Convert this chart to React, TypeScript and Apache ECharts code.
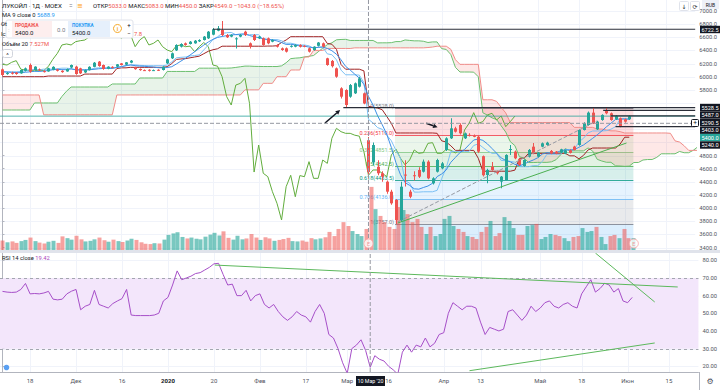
import React, { useEffect, useRef } from "react";
import * as echarts from "echarts";

// ---------- DATA ----------
// daily candles: [open, close, low, high]
const candles: number[][] = [
  [6112, 6026, 6010, 6125], [6045, 6055, 6030, 6070], [6060, 6045, 6035, 6075], [6062, 6041, 6030, 6070], [6051, 6102, 6045, 6110],
  [6090, 6127, 6080, 6140], [6178, 6076, 6060, 6200], [6102, 6153, 6095, 6160], [6110, 6095, 6085, 6125], [6085, 6080, 6065, 6100],
  [6080, 6127, 6075, 6135], [6105, 6150, 6100, 6160], [6110, 6090, 6080, 6120], [6090, 6070, 6060, 6100], [6080, 6118, 6075, 6125],
  [6140, 6178, 6130, 6185], [6153, 6041, 6030, 6165], [6127, 6051, 6040, 6135], [6065, 6100, 6055, 6110], [6100, 6150, 6095, 6160],
  [6150, 6213, 6145, 6225], [6229, 6163, 6150, 6240], [6178, 6117, 6105, 6185], [6120, 6153, 6115, 6160], [6150, 6135, 6125, 6160],
  [6153, 6188, 6145, 6195], [6203, 6178, 6170, 6210], [6183, 6219, 6178, 6225], [6214, 6244, 6205, 6255], [6140, 6115, 6105, 6150],
  [6118, 6100, 6090, 6125], [6100, 6095, 6085, 6110], [6105, 6090, 6080, 6115], [6095, 6100, 6085, 6110], [6105, 6095, 6085, 6112],
  [6102, 6153, 6095, 6160], [6203, 6264, 6195, 6275], [6280, 6356, 6270, 6370], [6400, 6483, 6390, 6495], [6457, 6498, 6445, 6510],
  [6508, 6483, 6470, 6520], [6498, 6533, 6490, 6545], [6508, 6548, 6500, 6560], [6538, 6558, 6530, 6570], [6558, 6610, 6550, 6620],
  [6584, 6685, 6575, 6695], [6640, 6722.5, 6630, 6740], [6700, 6735, 6690, 6770], [6711, 6635, 6620, 6848], [6635, 6600, 6590, 6650],
  [6610, 6635, 6600, 6645], [6574, 6584, 6430, 6600], [6610, 6635, 6600, 6650], [6685, 6635, 6620, 6700], [6508, 6457, 6430, 6520],
  [6635, 6559, 6545, 6650], [6584, 6610, 6575, 6620], [6584, 6483, 6470, 6595], [6584, 6508, 6495, 6595], [6533, 6559, 6525, 6570],
  [6483, 6457, 6445, 6495], [6432, 6406, 6395, 6445], [6432, 6381, 6370, 6445], [6457, 6470, 6445, 6480], [6457, 6483, 6450, 6495],
  [6483, 6457, 6445, 6495], [6470, 6465, 6450, 6480], [6432, 6381, 6370, 6445], [6406, 6457, 6395, 6465], [6470, 6520, 6460, 6530],
  [6508, 6457, 6445, 6520], [6280, 6178, 6165, 6290], [6240, 6160, 6140, 6254], [6127, 6000, 5985, 6140], [5823, 5696, 5670, 5840],
  [5797, 5569, 5528, 5810], [5696, 5873, 5680, 5890], [5747, 5899, 5735, 5910], [5848, 5975, 5835, 6000], [5747, 5592, 5580, 5760],
  [5033, 4549, 4450, 5083], [4700, 4960, 4650, 5000], [4630, 4530, 4500, 4730], [4530, 4478, 4400, 4560], [4402, 4250, 4220, 4420],
  [4250, 4073, 4050, 4280], [4123, 3819, 3757, 4140], [3819, 4326, 3790, 4400], [4510, 4500, 4330, 4730], [4250, 4173, 4150, 4280],
  [4500, 4495, 4420, 4560], [4580, 4478, 4460, 4620], [4554, 4707, 4540, 4740], [4707, 4453, 4440, 4730], [4377, 4453, 4360, 4470],
  [4554, 4732, 4540, 4750], [4605, 4681, 4590, 4700], [4884, 5062, 4870, 5080], [5062, 5214, 5050, 5366], [5214, 5163, 5150, 5240],
  [5265, 5138, 5120, 5290], [5062, 5138, 5050, 5150], [5115, 5110, 5090, 5140], [5100, 5095, 5080, 5120], [5087, 4859, 4840, 5100],
  [4790, 4500, 4480, 4800], [4504, 4580, 4377, 4600], [4631, 4580, 4570, 4700], [4555, 4530, 4510, 4570], [4403, 4479, 4301, 4490],
  [4428, 4809, 4420, 4820], [4890, 4900, 4809, 4960], [4860, 4758, 4745, 4875], [4743, 4657, 4640, 4755], [4641, 4733, 4630, 4745],
  [4783, 4885, 4770, 4900], [4935, 4834, 4820, 4990], [4783, 4844, 4770, 4855], [4935, 4986, 4925, 5000], [4961, 4996, 4950, 5010],
  [4870, 4834, 4820, 4885], [4860, 4834, 4820, 4870], [4844, 4895, 4835, 4905], [4830, 4880, 4820, 4890], [4880, 4840, 4830, 4895],
  [4936, 4885, 4875, 4950], [4961, 5189, 4950, 5200], [5189, 5291, 5180, 5305], [5265, 5453, 5255, 5470], [5453, 5291, 5280, 5528],
  [5199, 5316, 5190, 5330], [5341, 5418, 5330, 5430], [5483, 5443, 5430, 5528], [5443, 5341, 5330, 5455], [5352, 5402, 5340, 5415],
  [5367, 5240, 5230, 5380], [5352, 5316, 5300, 5365], [5352, 5400, 5340, 5410],
];

// volume, millions
const volumes: number[] = [
  3.2, 2.6, 2.9, 2.4, 3.0, 3.4, 4.2, 3.0, 2.5, 2.2,
  2.8, 3.1, 2.4, 4.6, 4.0, 3.5, 4.8, 3.6, 2.9, 3.1,
  3.6, 4.2, 3.3, 2.8, 3.5, 3.0, 2.7, 3.2, 3.8, 3.4,
  2.6, 2.1, 2.0, 2.3, 2.2, 3.5, 5.1, 5.6, 6.0, 4.4,
  3.9, 4.2, 3.8, 3.6, 4.5, 5.2, 5.8, 4.9, 6.3, 4.1,
  3.5, 4.8, 3.6, 3.9, 5.4, 4.2, 3.4, 4.3, 3.9, 3.1,
  3.4, 3.7, 4.1, 3.0, 2.9, 3.2, 2.8, 4.0, 3.6, 3.9,
  4.3, 6.1, 4.7, 7.1, 9.4, 8.1, 6.4, 5.4, 4.7, 7.1,
  21.3, 13.8, 11.5, 9.4, 7.8, 7.1, 14.5, 13.5, 12.1, 9.4,
  10.5, 7.8, 5.4, 7.8, 4.7, 5.4, 10.5, 11.5, 8.1, 7.1,
  6.1, 4.7, 4.4, 3.7, 6.1, 7.8, 9.8, 4.7, 5.7, 11.1,
  9.8, 7.4, 5.1, 5.1, 8.1, 8.4, 8.8, 3.7, 4.4, 5.4,
  5.1, 4.7, 4.0, 3.0, 4.4, 4.7, 7.4, 6.1, 6.4, 7.8,
  4.4, 2.0, 4.7, 5.1, 4.0, 7.1, 4.0, 4.0,
];

// RSI 14 values
const rsiValues: number[] = [
  62.4, 62, 61.8, 62, 63.5, 66.9, 61, 61.2, 61, 61.5,
  62.4, 58, 57.6, 58, 61, 62.5, 63.5, 52, 54, 55,
  63, 55, 54, 53, 55.5, 57, 58.3, 63.5, 49, 48.7,
  48.7, 48.7, 48.7, 49, 50, 57, 59, 66, 74, 69,
  70, 71, 72.5, 73, 74.5, 76, 78, 78.3, 72, 66,
  66.5, 60, 60, 63, 57, 60, 61, 55, 53, 55,
  51, 48, 46, 48, 51, 49, 48, 45, 51, 55,
  50, 38, 36, 30, 22, 16, 30, 32, 35, 29,
  19.42, 26, 24, 23, 20, 18, 15.5, 28, 32, 28,
  32, 31, 36, 31, 33, 38, 39, 50, 56, 54,
  52, 54, 54, 53, 45, 38, 42, 41, 40, 41,
  51, 52, 49, 46, 49, 54, 51, 53, 56, 57,
  54, 53, 55, 56, 54, 53, 61, 65, 69, 62,
  64, 67, 66, 62, 64, 57, 56, 59,
];

// indicator values at the left edge (their look-back windows lie before the first visible bar)
const ma9Head = [6075, 6070, 6066, 6062, 6062, 6068, 6074, 6082];
const tenkanHead = [6075, 6075, 6075, 6075, 6080, 6090, 6105, 6110];
const kijunHead = [
  6000, 6000, 6000, 6000, 6000, 6000, 6000, 6000, 6000, 6000,
  6010, 6010, 6010, 6010, 6010, 6010, 6010, 6010,
  6040, 6040, 6040, 6040, 6040, 6040, 6040,
];
const spanAHead = [
  5493, 5493, 5493, 5493, 5493, 5493, 5493, 5600, 5600, 5600,
  5600, 5600, 5600, 5700, 5780, 5843, 5843, 5843, 5843, 5843,
  5843, 5843, 5843, 5843, 5889, 5889, 5889, 5889, 5889, 5889,
  5980, 5980, 5980, 5980, 5980, 5980, 6080, 6080, 6080, 6080,
  6080, 6080, 6080, 6130, 6130, 6130, 6130, 6130, 6130, 6130,
];
const spanBHead = [
  5722, 5722, 5722, 5722, 5722, 5722, 5722, 5722, 5722, 5420,
  5420, 5420, 5420, 5420, 5420, 5420, 5420, 5420, 5420, 5420,
  5420, 5420, 5420, 5420, 5420, 5722, 5722, 5722, 5722, 5722,
  5722, 5722, 5722, 5722, 5722, 5722, 5722, 5722, 5722, 5722,
  5722, 5722, 5722, 5722, 5722, 5722, 5722, 5722, 5722, 5722,
  5722, 5722, 5722, 5800, 5800, 5800, 5800, 5899, 5899, 5899,
  6000, 6000, 6000, 6102, 6102, 6102, 6300, 6300, 6400, 6400,
  6400, 6430, 6430, 6430, 6430, 6430,
];

const priceGridTicks = [3400, 3600, 3800, 4000, 4200, 4400, 4600, 4800, 5000, 5200, 5400, 5600, 5800, 6000, 6200, 6400, 6600, 6800, 7000];
// labels that stay visible (the others sit under the price tags)
const priceLabelTicks = [3400, 3600, 3800, 4000, 4200, 4400, 4600, 4800, 5800, 6000, 6200, 6400, 6600, 6800, 7000];
const rsiTicks = [20, 30, 40, 50, 60, 70, 80];
const xTickIndex = [6, 16, 26, 36, 46, 56, 66, 75, 84, 96, 104, 117, 126, 136, 145];
const xTickLabels = ["18", "Дек", "16", "2020", "20", "Фев", "17", "Мар", "16", "Апр", "13", "Май", "18", "Июн", "15"];

// drawings
const fibHigh = 5528;
const fibLow = 3757;
const fibRatios = [0, 0.236, 0.382, 0.5, 0.618, 0.786, 1, 1.618];
const fibStart = 85.8;
const fibEnd = 137.9;
const rays = [
  { price: 6722.5, from: 46 },
  { price: 5528.5, from: 74.5 },
  { price: 5487, from: 131.3 },
  { price: 5403, from: 133 },
  { price: 5240, from: 134 },
];
const lastPrice = 5400;
const crossIndex = 80;
const crossPrice = 5290.5;
const trendGreen = [[86.4, 3773], [136.4, 4991]];
const trendDashed = [[86.4, 3789], [129.9, 5326]];
const rsiTrend1 = [[46.2, 77.3], [146.9, 64.9]];
const rsiTrend2 = [[101.6, 17.5], [141.9, 33.2]];
const rsiTrend3 = [[129.0, 84.1], [141.9, 56.4]];
const arrows = [[70.5, 5295, 73.8, 5493], [92.6, 5291, 95.1, 5230]];
const earnings = [80, 138];

// ---------- LAYOUT ----------
const X_MIN = -0.543, X_MAX = 151.41;
const P_MIN = 3362.3, P_MAX = 7167.4;
const R_MIN = 16.77, R_MAX = 84.13;
const V_MAX = 27;
const UP = "#26a69a", DOWN = "#ef5350";
const FONT = 'Roboto, "Noto Sans", "DejaVu Sans", sans-serif';
const fibColors = ["#787b86", "#f23645", "#81c784", "#4caf50", "#089981", "#64b5f6", "#787b86", "#2196f3"];

function hexA(hex: string, a: number) {
  const n = parseInt(hex.slice(1), 16);
  return `rgba(${(n >> 16) & 255},${(n >> 8) & 255},${n & 255},${a})`;
}

function buildOption() {
  const N = candles.length;
  const SHIFT = 25;
  const closes = candles.map((c) => c[1]);
  const lows = candles.map((c) => c[2]);
  const highs = candles.map((c) => c[3]);
  const midRange = (end: number, len: number) => {
    let h = -Infinity, l = Infinity;
    for (let k = end - len + 1; k <= end; k++) { h = Math.max(h, highs[k]); l = Math.min(l, lows[k]); }
    return (h + l) / 2;
  };
  const ma9 = closes.map((_, i) => {
    if (i < 8) return ma9Head[i];
    let s = 0; for (let k = i - 8; k <= i; k++) s += closes[k]; return s / 9;
  });
  const tenkan = closes.map((_, i) => (i >= 8 ? midRange(i, 9) : tenkanHead[i]));
  const kijun = closes.map((_, i) => (i >= 25 ? midRange(i, 26) : kijunHead[i]));
  const spanA: number[] = [], spanB: number[] = [];
  for (let j = 0; j < N + SHIFT; j++) {
    spanA.push(j >= 50 ? (tenkan[j - SHIFT] + kijun[j - SHIFT]) / 2 : spanAHead[j]);
    spanB.push(j >= 76 ? midRange(j - SHIFT, 52) : spanBHead[j]);
  }
  const chikou = closes.slice(SHIFT).map((c, i) => [i, c]);

  // cloud runs (split where spans cross)
  const runs: { s: number; pts: number[][] }[] = [];
  let cur: { s: number; pts: number[][] } | null = null;
  for (let j = 0; j < spanA.length; j++) {
    const a = spanA[j], b = spanB[j];
    const s = a >= b ? 1 : -1;
    if (!cur) { cur = { s, pts: [[j, a, b]] }; continue; }
    if (s === cur.s) cur.pts.push([j, a, b]);
    else {
      const [pj, pa, pb] = cur.pts[cur.pts.length - 1];
      const d0 = pa - pb, d1 = a - b;
      const t = d0 / (d0 - d1);
      const xm = pj + t, vm = pa + (a - pa) * t;
      cur.pts.push([xm, vm, vm]);
      runs.push(cur);
      cur = { s, pts: [[xm, vm, vm], [j, a, b]] };
    }
  }
  if (cur) runs.push(cur);

  const idx = (arr: number[]) => arr.map((v, i) => [i, v]);
  const line = (data: any[], color: string, o: any = {}) => ({
    type: "line", data, xAxisIndex: o.g ?? 0, yAxisIndex: o.g ?? 0, symbol: "none", showSymbol: false,
    silent: true, clip: true, z: o.z ?? 3,
    lineStyle: { color, width: o.w ?? 1, type: o.type ?? "solid", opacity: o.op ?? 1 },
  });
  const hLines = (values: number[], g: number, color: string) => ({
    type: "custom", xAxisIndex: g, yAxisIndex: g, silent: true, z: 0, clip: true,
    data: values.map((v) => [X_MIN, v]),
    renderItem: (params: any, api: any) => {
      const cs = params.coordSys;
      const y = Math.round(api.coord([X_MIN, api.value(1)])[1]) + 0.5;
      return { type: "line", shape: { x1: cs.x, y1: y, x2: cs.x + cs.width, y2: y }, style: { stroke: color, lineWidth: 1 } };
    },
  });
  const vLines = (values: number[], g: number, mid: number, color: string) => ({
    type: "custom", xAxisIndex: g, yAxisIndex: g, silent: true, z: 0, clip: true,
    data: values.map((v) => [v, mid]),
    renderItem: (params: any, api: any) => {
      const cs = params.coordSys;
      const x = Math.round(api.coord([api.value(0), mid])[0]) + 0.5;
      return { type: "line", shape: { x1: x, y1: cs.y, x2: x, y2: cs.y + cs.height }, style: { stroke: color, lineWidth: 1 } };
    },
  });

  const xLabelMap = new Map<number, string>();
  xTickIndex.forEach((v, k) => xLabelMap.set(v, xTickLabels[k]));

  const series: any[] = [
    hLines(priceGridTicks, 0, "#f0f3fa"),
    vLines(xTickIndex, 0, 5000, "#f0f3fa"),
    hLines(rsiTicks, 2, "#f0f3fa"),
    vLines(xTickIndex, 2, 50, "#f0f3fa"),
    // RSI band
    {
      type: "custom", xAxisIndex: 2, yAxisIndex: 2, silent: true, z: 1, clip: true,
      data: [[X_MIN, 70, X_MAX, 30]],
      renderItem: (params: any, api: any) => {
        const a = api.coord([api.value(0), api.value(1)]);
        const b = api.coord([api.value(2), api.value(3)]);
        const y1 = Math.round(a[1]) + 0.5, y2 = Math.round(b[1]) + 0.5;
        return {
          type: "group", children: [
            { type: "rect", shape: { x: a[0], y: a[1], width: b[0] - a[0], height: b[1] - a[1] }, style: { fill: "#f3e6fb" } },
            { type: "line", shape: { x1: a[0], y1, x2: b[0], y2: y1 }, style: { stroke: "#a3a6af", lineWidth: 1, lineDash: [3, 3] } },
            { type: "line", shape: { x1: a[0], y1: y2, x2: b[0], y2 }, style: { stroke: "#a3a6af", lineWidth: 1, lineDash: [3, 3] } },
          ],
        };
      },
    },
    // Fibonacci retracement
    {
      type: "custom", xAxisIndex: 0, yAxisIndex: 0, silent: true, z: 1, clip: true,
      data: fibRatios.slice(0, -1).map((r, k) => [fibStart, fibEnd, fibHigh - r * (fibHigh - fibLow), fibHigh - fibRatios[k + 1] * (fibHigh - fibLow), k]),
      renderItem: (params: any, api: any) => {
        const k = api.value(4);
        const a = api.coord([api.value(0), api.value(2)]);
        const b = api.coord([api.value(1), api.value(3)]);
        const yl = Math.round(a[1]) + 0.5;
        const label = `${fibRatios[k]}(${api.value(2).toFixed(1)})`;
        return {
          type: "group", children: [
            { type: "rect", shape: { x: a[0], y: a[1], width: b[0] - a[0], height: b[1] - a[1] }, style: { fill: hexA(fibColors[k + 1], 0.16) } },
            { type: "line", shape: { x1: a[0], y1: yl, x2: b[0], y2: yl }, style: { stroke: fibColors[k], lineWidth: 1, opacity: 0.8 } },
            {
              type: "text", x: a[0] - 1, y: yl + 0.5,
              style: { text: label, fill: fibColors[k], fontSize: 5.5, fontFamily: FONT, align: "right", textAlign: "right", verticalAlign: "bottom", textVerticalAlign: "bottom" },
            },
          ],
        };
      },
    },
    // Ichimoku cloud fill
    {
      type: "custom", xAxisIndex: 0, yAxisIndex: 0, silent: true, z: 1, clip: true,
      data: [[0, 5000]],
      renderItem: (params: any, api: any) => ({
        type: "group",
        children: runs.map((run) => {
          const upper = run.pts.map((p) => api.coord([p[0], p[1]]));
          const lower = run.pts.slice().reverse().map((p) => api.coord([p[0], p[2]]));
          return { type: "polygon", shape: { points: upper.concat(lower) }, style: { fill: run.s > 0 ? "rgba(67,160,71,0.12)" : "rgba(244,67,54,0.12)" } };
        }),
      }),
    },
    line(idx(spanA), "#6cbf6f", { z: 2 }),
    line(idx(spanB), "#f08c88", { z: 2 }),
    // volume
    {
      type: "custom", xAxisIndex: 1, yAxisIndex: 1, silent: true, z: 2, clip: true,
      data: volumes.map((v, i) => [i, v, candles[i][1] >= candles[i][0] ? 1 : 0]),
      encode: { x: 0, y: 1 },
      renderItem: (params: any, api: any) => {
        const t = api.coord([api.value(0), api.value(1)]);
        const b = api.coord([api.value(0), 0]);
        const xr = Math.round(t[0]);
        return { type: "rect", shape: { x: xr - 1.5, y: t[1], width: 4, height: b[1] - t[1] }, style: { fill: api.value(2) ? "rgba(38,166,154,0.62)" : "rgba(239,83,80,0.55)" } };
      },
    },
    line(chikou, "#62ad3e", { z: 3 }),
    line(idx(kijun), "#a02424", { z: 3 }),
    line(idx(tenkan), "#7cc0f4", { z: 3 }),
    line(idx(ma9), "#3d8fe6", { z: 3 }),
    // candles
    {
      type: "custom", xAxisIndex: 0, yAxisIndex: 0, silent: true, z: 4, clip: true,
      data: candles.map((c, i) => [i, c[0], c[1], c[2], c[3]]),
      encode: { x: 0, y: [1, 2, 3, 4] },
      renderItem: (params: any, api: any) => {
        const i = api.value(0), o = api.value(1), c = api.value(2), l = api.value(3), h = api.value(4);
        const po = api.coord([i, o]), pc = api.coord([i, c]), pl = api.coord([i, l]), ph = api.coord([i, h]);
        const color = c >= o ? UP : DOWN;
        const xr = Math.round(po[0]);
        const top = Math.min(po[1], pc[1]);
        const bh = Math.max(Math.abs(po[1] - pc[1]), 1);
        return {
          type: "group", children: [
            { type: "rect", shape: { x: xr, y: ph[1], width: 1, height: pl[1] - ph[1] }, style: { fill: color } },
            { type: "rect", shape: { x: xr - 1, y: top, width: 3, height: bh }, style: { fill: color } },
          ],
        };
      },
    },
    // drawings
    line([[X_MIN, lastPrice], [X_MAX, lastPrice]], "#26a69a", { z: 5, op: 0.75 }),
    ...rays.map((r) => line([[r.from, r.price], [X_MAX, r.price]], "#2a2e39", { z: 5, w: 1.2 })),
    line(trendGreen, "#4caf50", { z: 5 }),
    line(trendDashed, "#9598a1", { z: 5, type: "dashed" }),
    line([[crossIndex, P_MIN], [crossIndex, P_MAX]], "#9598a1", { z: 6, type: "dashed" }),
    line([[X_MIN, crossPrice], [X_MAX, crossPrice]], "#9598a1", { z: 6, type: "dashed" }),
    {
      type: "custom", xAxisIndex: 0, yAxisIndex: 0, silent: true, z: 6, clip: true,
      data: arrows,
      renderItem: (params: any, api: any) => {
        const p0 = api.coord([api.value(0), api.value(1)]);
        const p1 = api.coord([api.value(2), api.value(3)]);
        const dx = p1[0] - p0[0], dy = p1[1] - p0[1];
        const len = Math.hypot(dx, dy) || 1;
        const ux = dx / len, uy = dy / len, L = 4.5, W = 2.3;
        const bx = p1[0] - ux * L, by = p1[1] - uy * L;
        return {
          type: "group", children: [
            { type: "line", shape: { x1: p0[0], y1: p0[1], x2: bx, y2: by }, style: { stroke: "#131722", lineWidth: 1.5 } },
            { type: "polygon", shape: { points: [[p1[0], p1[1]], [bx - uy * W, by + ux * W], [bx + uy * W, by - ux * W]] }, style: { fill: "#131722" } },
          ],
        };
      },
    },
    {
      type: "scatter", xAxisIndex: 0, yAxisIndex: 0, silent: true, z: 7,
      data: earnings.map((i) => [i, 3461]),
      symbol: "circle", symbolSize: 9,
      itemStyle: { color: "#ffffff", borderColor: "#f5a3a3", borderWidth: 1 },
      label: { show: true, position: "inside", formatter: "E", color: "#ef7f7f", fontSize: 5.5, fontFamily: FONT },
    },
    // RSI
    line(idx(rsiValues), "#a64fc8", { g: 2, z: 3 }),
    line(rsiTrend1, "#5cb85c", { g: 2, z: 4 }),
    line(rsiTrend2, "#5cb85c", { g: 2, z: 4 }),
    line(rsiTrend3, "#5cb85c", { g: 2, z: 4 }),
    line([[crossIndex, R_MIN], [crossIndex, R_MAX]], "#9598a1", { g: 2, z: 6, type: "dashed" }),
  ];

  const txt = (text: string, x: number, y: number, fill = "#131722", size = 6, extra: any = {}) => ({
    type: "text", x, y, z: 100,
    style: { text, fill, fontSize: size, fontFamily: FONT, verticalAlign: "middle", textVerticalAlign: "middle", ...extra },
  });
  const rect = (x: number, y: number, w: number, h: number, fill: string, stroke?: string, r = 0) => ({
    type: "rect", z: 99, shape: { x, y, width: w, height: h, r }, style: { fill, stroke, lineWidth: stroke ? 1 : 0 },
  });
  const red = { fill: "#ef5350", fontSize: 6, fontFamily: FONT };

  const axisTags = [
    { text: "6722.5", y: 29.5, bg: "#131722" },
    { text: "5528.5", y: 107.5, bg: "#131722" },
    { text: "5487.0", y: 115, bg: "#131722" },
    { text: "5290.5", y: 122.6, bg: "#131722" },
    { text: "5403.0", y: 130.2, bg: "#131722" },
    { text: "5400.0", y: 137.6, bg: "#26a69a" },
    { text: "5240.0", y: 145, bg: "#131722" },
  ];

  const graphic: any[] = [
    rect(0, 250, 720, 3, "#e0e3eb"),
    { type: "line", z: 99, shape: { x1: 699.5, y1: 372, x2: 699.5, y2: 390 }, style: { stroke: "#b2b5be", lineWidth: 1 } },
    // header
    txt("ЛУКОЙЛ · 1Д · MOEX", 2, 5.5, "#131722", 6.2),
    txt("=", 69, 5.5, "#787b86", 6.5),
    txt("≡", 77, 5.5, "#ff9800", 7),
    txt("ОТКР{r|5033.0} МАКС{r|5083.0} МИН{r|4450.0} ЗАКР{r|4549.0} {r|−1043.0 (−18.65%)}", 93, 5.5, "#131722", 6, { rich: { r: red } }),
    txt("MA 9 close 0 {b|5688.9}", 2, 14.5, "#131722", 5.8, { rich: { b: { fill: "#2196f3", fontSize: 5.8, fontFamily: FONT } } }),
    txt("Ot", 1, 24, "#131722", 5.8),
    txt("Ic", 1, 33.5, "#131722", 5.8), txt("7.8", 134, 33.5, "#ef5350", 5.8),
    txt("Объём 20 {r|7.527M}", 2, 43.5, "#131722", 5.8, { rich: { r: { fill: "#ef5350", fontSize: 5.8, fontFamily: FONT } } }),
    rect(2.5, 49.5, 10, 8, "#ffffff", "#d1d4dc", 2),
    txt("^", 7.5, 54.5, "#131722", 6, { align: "center", textAlign: "center" }),
    // buy / sell widget
    rect(6, 20, 127, 18, "#ffffff", "#e0e3eb", 2),
    txt(":", 8, 29, "#b2b5be", 6),
    rect(12, 21, 40, 16, "#fdeeee"),
    txt("ПРОДАЖА", 15, 25.5, "#ef5350", 4.6, { fontWeight: "bold" }),
    txt("5400.0", 15, 32.5, "#131722", 6),
    txt("0.0", 57, 29.5, "#787b86", 6),
    rect(68, 21, 42, 16, "#e6f0fc"),
    txt("ПОКУПКА", 72, 25.5, "#2196f3", 4.6, { fontWeight: "bold" }),
    txt("5400.0", 72, 32.5, "#131722", 6),
    { type: "circle", z: 100, shape: { cx: 117.5, cy: 28.5, r: 4 }, style: { fill: "#ffffff", stroke: "#f5a623", lineWidth: 1 } },
    txt("i", 117.5, 28.7, "#f5a623", 5.5, { align: "center", textAlign: "center", fontWeight: "bold" }),
    txt("+", 129, 24.5, "#131722", 6, { align: "center", textAlign: "center" }),
    txt("−", 129, 33, "#131722", 6, { align: "center", textAlign: "center" }),
    // top-right icons
    rect(679.5, 1.5, 9, 9, "#ffffff", "#e0e3eb", 1),
    txt("↓", 684, 6, "#131722", 6, { align: "center", textAlign: "center" }),
    rect(690.5, 1.5, 9, 9, "#ffffff", "#e0e3eb", 1),
    txt("⟳", 695, 6, "#131722", 6, { align: "center", textAlign: "center" }),
    rect(702, 0, 17, 9, "#eef1f8"),
    txt("RUB", 710.5, 4.5, "#131722", 5, { align: "center", textAlign: "center" }),
    // axis tags
    ...axisTags.flatMap((t) => [
      rect(700, t.y - 3.7, 20, 7.4, t.bg),
      txt(t.text, 710, t.y, "#ffffff", 5.6, { align: "center", textAlign: "center" }),
    ]),
    rect(691.5, 119.5, 7, 7, "#ffffff", "#131722", 1),
    txt("+", 695, 123, "#131722", 6.5, { align: "center", textAlign: "center" }),
    // RSI title
    txt("RSI 14 close {p|19.42}", 2, 257.5, "#131722", 5.8, { rich: { p: { fill: "#ab47bc", fontSize: 5.8, fontFamily: FONT } } }),
    { type: "circle", z: 100, shape: { cx: 6.5, cy: 367.5, r: 2.8 }, style: { fill: "#5aa0f2" } },
    // crosshair date tag
    rect(356, 376, 29, 10, "#131722"),
    txt("10 Мар '20", 370.5, 381, "#ffffff", 5.3, { align: "center", textAlign: "center" }),
    txt("⚙", 710, 381, "#50535e", 8, { align: "center", textAlign: "center" }),
  ];

  return {
    animation: false,
    backgroundColor: "#ffffff",
    textStyle: { fontFamily: FONT },
    grid: [
      { left: 0, top: 0, width: 699, height: 250 },
      { left: 0, top: 170, width: 699, height: 80 },
      { left: 0, top: 253, width: 699, height: 119 },
    ],
    xAxis: [
      { type: "value", gridIndex: 0, min: X_MIN, max: X_MAX, show: false },
      { type: "value", gridIndex: 1, min: X_MIN, max: X_MAX, show: false },
      {
        type: "value", gridIndex: 2, min: X_MIN, max: X_MAX,
        axisLine: { show: true, onZero: false, lineStyle: { color: "#b2b5be" } },
        axisTick: { show: false }, splitLine: { show: false },
        axisLabel: {
          customValues: xTickIndex, margin: 5, fontSize: 6, color: "#50535e", fontFamily: FONT,
          formatter: (v: number) => {
            const s = xLabelMap.get(v) ?? "";
            return s === "2020" ? "{b|2020}" : s;
          },
          rich: { b: { fontWeight: "bold", fontSize: 6, color: "#131722", fontFamily: FONT } },
        },
      },
    ],
    yAxis: [
      {
        type: "value", gridIndex: 0, position: "right", min: P_MIN, max: P_MAX,
        axisLine: { show: true, lineStyle: { color: "#b2b5be" } },
        axisTick: { show: true, length: 2, customValues: priceLabelTicks, lineStyle: { color: "#b2b5be" } },
        splitLine: { show: false },
        axisLabel: { customValues: priceLabelTicks, formatter: (v: number) => v.toFixed(1), fontSize: 5.8, color: "#50535e", margin: 4, fontFamily: FONT },
      },
      { type: "value", gridIndex: 1, min: 0, max: V_MAX, show: false },
      {
        type: "value", gridIndex: 2, position: "right", min: R_MIN, max: R_MAX,
        axisLine: { show: true, lineStyle: { color: "#b2b5be" } },
        axisTick: { show: true, length: 2, customValues: rsiTicks, lineStyle: { color: "#b2b5be" } },
        splitLine: { show: false },
        axisLabel: { customValues: rsiTicks, formatter: (v: number) => v.toFixed(2), fontSize: 5.8, color: "#50535e", margin: 4, fontFamily: FONT },
      },
    ],
    series,
    graphic,
  };
}

export default function App() {
  const ref = useRef<HTMLDivElement>(null);
  useEffect(() => {
    if (!ref.current) return;
    const chart = echarts.init(ref.current, undefined, { renderer: "svg" });
    chart.setOption(buildOption() as any);
    return () => chart.dispose();
  }, []);
  return (
    <div
      ref={ref}
      style={{ position: "fixed", left: 0, top: 0, width: 720, height: 390, background: "#ffffff" }}
    />
  );
}
